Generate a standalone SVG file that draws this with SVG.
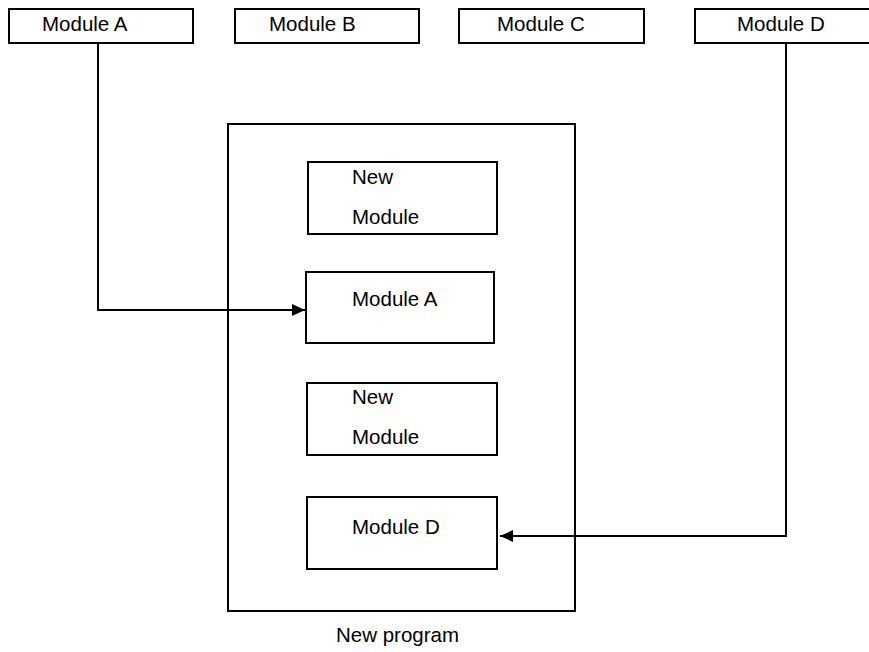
<svg xmlns="http://www.w3.org/2000/svg" width="869" height="652" viewBox="0 0 869 652">
<style>
.box{fill:#fff;stroke:#000;stroke-width:2}
.t{font-family:"Liberation Sans",Arial,sans-serif;font-size:20.5px;fill:#000}
.c{fill:none;stroke:#000;stroke-width:2}
</style>
<defs>
<marker id="ah" markerWidth="13" markerHeight="12" refX="13" refY="6" orient="auto" markerUnits="userSpaceOnUse">
<path d="M0,0 L13,6 L0,12 Z" fill="#000"/>
</marker>
</defs>
<rect width="869" height="652" fill="#fff"/>
<g id="outer"><rect class="box" x="228" y="124" width="347" height="487"/></g>
<g id="modA"><rect class="box" x="9" y="9" width="184" height="34"/><text class="t" x="42" y="31">Module A</text></g>
<g id="modB"><rect class="box" x="235" y="9" width="184" height="34"/><text class="t" x="269" y="31">Module B</text></g>
<g id="modC"><rect class="box" x="459" y="9" width="185" height="34"/><text class="t" x="497" y="31">Module C</text></g>
<g id="modD"><rect class="box" x="695" y="9" width="190" height="34"/><text class="t" x="737" y="31">Module D</text></g>
<g id="new1"><rect class="box" x="308" y="162" width="189" height="72"/><text class="t" x="352" y="184">New</text><text class="t" x="352" y="224">Module</text></g>
<g id="inA"><rect class="box" x="306" y="272" width="188" height="71"/><text class="t" x="352" y="306">Module A</text></g>
<g id="new2"><rect class="box" x="307" y="383" width="190" height="72"/><text class="t" x="352" y="404">New</text><text class="t" x="352" y="444">Module</text></g>
<g id="inD"><rect class="box" x="307" y="497" width="190" height="72"/><text class="t" x="352" y="534">Module D</text></g>
<g id="label"><text class="t" x="336" y="642">New program</text></g>
<g id="connectors">
<path class="c" d="M98,43 V310 H305" marker-end="url(#ah)"/>
<path class="c" d="M786,43 V536 H500" marker-end="url(#ah)"/>
</g>
</svg>
